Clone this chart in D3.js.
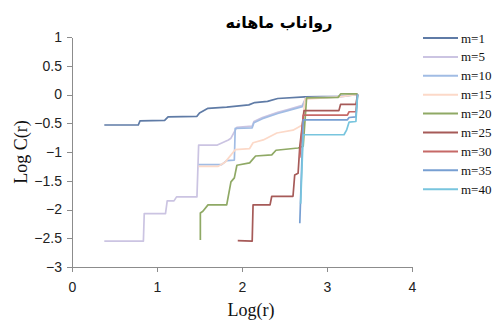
<!DOCTYPE html>
<meta charset="utf-8">
<html>
  <head>
    <title>Log C(r) vs Log(r)</title>
    <script src="https://d3js.org/d3.v7.min.js"></script>
    <style type="text/css">
      body{
        margin:0;
        background:#fff;
      }
      .axis path, .axis line{
        fill:none;
        stroke:#8c8c8c;
        shape-rendering:crispEdges;
      }
      .axis text{
        font-family:"Liberation Sans", sans-serif;
        font-size:14px;
        fill:#222;
      }
      .label{
        font-family:"Liberation Serif", serif;
        fill:#111;
      }
      .legend text{
        font-family:"Liberation Serif", serif;
        font-size:13px;
        fill:#111;
      }
    </style>
  </head>
  <body>
    <div id="plot"></div>
  </body>

  <script>
    // series: [Log(r), Log C(r)]
    var m1  = [[0.38,-0.53],[0.78,-0.53],[0.80,-0.46],[1.09,-0.45],[1.13,-0.39],[1.47,-0.38],[1.50,-0.32],[1.60,-0.24],[1.82,-0.22],[2.08,-0.18],[2.15,-0.14],[2.30,-0.12],[2.42,-0.07],[2.74,-0.04],[3.15,-0.03],[3.36,0]];
    var m5  = [[0.38,-2.55],[0.84,-2.55],[0.85,-2.07],[1.10,-2.07],[1.12,-1.85],[1.20,-1.85],[1.23,-1.78],[1.47,-1.78],[1.49,-0.88],[1.71,-0.88],[1.84,-0.79],[1.87,-0.76],[1.94,-0.57],[2.12,-0.55],[2.14,-0.47],[2.24,-0.40],[2.42,-0.31],[2.54,-0.26],[2.71,-0.19],[2.75,-0.06],[3.15,-0.03],[3.36,0]];
    var m10 = [[1.49,-1.22],[1.76,-1.22],[1.82,-1.15],[1.91,-1.14],[1.92,-0.59],[2.12,-0.58],[2.14,-0.49],[2.24,-0.42],[2.42,-0.33],[2.54,-0.28],[2.71,-0.21],[2.75,-0.07],[3.15,-0.04],[3.36,0]];
    var m15 = [[1.49,-1.25],[1.72,-1.25],[1.80,-1.18],[1.92,-0.96],[2.09,-0.94],[2.13,-0.84],[2.25,-0.79],[2.41,-0.67],[2.60,-0.62],[2.71,-0.53],[2.74,-0.08],[3.15,-0.04],[3.36,0]];
    var m20 = [[1.51,-2.53],[1.51,-2.06],[1.54,-2.03],[1.60,-1.92],[1.82,-1.92],[1.87,-1.52],[1.91,-1.45],[1.94,-1.23],[2.09,-1.19],[2.16,-1.07],[2.35,-1.05],[2.40,-0.97],[2.66,-0.93],[2.72,-0.90],[2.76,-0.06],[3.13,-0.05],[3.16,0.01],[3.35,0.01],[3.36,0]];
    var m25 = [[1.95,-2.54],[2.12,-2.55],[2.13,-1.92],[2.33,-1.92],[2.35,-1.77],[2.60,-1.77],[2.62,-1.40],[2.66,-1.37],[2.68,-0.90],[2.73,-0.28],[3.14,-0.28],[3.16,-0.17],[3.34,-0.17],[3.36,0]];
    var m30 = [[2.68,-1.10],[2.72,-0.36],[3.24,-0.36],[3.26,-0.30],[3.34,-0.30],[3.36,0]];
    var m35 = [[2.68,-2.24],[2.72,-0.44],[3.24,-0.44],[3.26,-0.40],[3.34,-0.39],[3.36,0]];
    var m40 = [[2.69,-1.90],[2.72,-0.70],[3.20,-0.70],[3.23,-0.62],[3.26,-0.48],[3.34,-0.47],[3.36,0]];

    var names  = ["m=1","m=5","m=10","m=15","m=20","m=25","m=30","m=35","m=40"];
    var series = [m1,m5,m10,m15,m20,m25,m30,m35,m40];
    var colors = ["#5f7ba6","#cbc4e2","#a1bce4","#fcd9c8","#8fa965","#a65a58","#c66967","#779fd2","#78c5de"];

    var xTicks = [0,1,2,3,4];
    var yTicks = [1,0.5,0,-0.5,-1,-1.5,-2,-2.5,-3];

    var margin = {top:37, left:72},
        width = 340,
        height = 230;

    var svg = d3.select("#plot").append("svg")
        .attr("width",501)
        .attr("height",322);

    var g = svg.append("g")
        .attr("transform","translate("+margin.left+","+margin.top+")");

    var xScale = d3.scaleLinear().domain([0,4]).range([0,width]);
    var yScale = d3.scaleLinear().domain([-3,1]).range([height,0]);

    // axes
    g.append("g")
        .attr("class","x axis")
        .attr("transform","translate(0,"+height+")")
        .call(d3.axisBottom(xScale).tickValues(xTicks).tickFormat(d3.format("")).tickSize(5).tickSizeOuter(0).tickPadding(10));

    g.append("g")
        .attr("class","y axis")
        .call(d3.axisLeft(yScale).tickValues(yTicks).tickFormat(d3.format("")).tickSize(5).tickSizeOuter(0).tickPadding(5));

    // lines
    var line = d3.line()
        .x(function(d){return xScale(d[0]);})
        .y(function(d){return yScale(d[1]);});

    g.selectAll(".series")
       .data(series)
      .enter().append("path")
       .attr("class","series")
       .attr("d",line)
       .style("fill","none")
       .style("stroke",function(d,i){return colors[i];})
       .style("stroke-width",1.7)
       .style("stroke-linejoin","round");

    // titles
    svg.append("text")
       .attr("x",279)
       .attr("y",28)
       .style("text-anchor","middle")
       .style("font-family","'DejaVu Sans', sans-serif")
       .style("font-weight","bold")
       .style("font-size","16px")
       .attr("direction","rtl")
       .text("رواناب ماهانه");

    svg.append("text")
       .attr("class","label")
       .attr("x",251)
       .attr("y",316)
       .style("font-size","18px")
       .style("text-anchor","middle")
       .text("Log(r)");

    svg.append("text")
       .attr("class","label")
       .attr("transform","translate(27,152) rotate(-90)")
       .style("font-size","18px")
       .style("text-anchor","middle")
       .text("Log C(r)");

    // legend
    var legend = svg.selectAll(".legend")
       .data(names)
      .enter().append("g")
       .attr("class","legend")
       .attr("transform",function(d,i){return "translate(423,"+(38+i*18.9)+")";});

    legend.append("line")
       .attr("x1",0).attr("x2",35)
       .attr("y1",0).attr("y2",0)
       .style("stroke",function(d,i){return colors[i];})
       .style("stroke-width",2);

    legend.append("text")
       .attr("x",38)
       .attr("y",0)
       .attr("dy","0.35em")
       .text(function(d){return d;});
  </script>
</html>
